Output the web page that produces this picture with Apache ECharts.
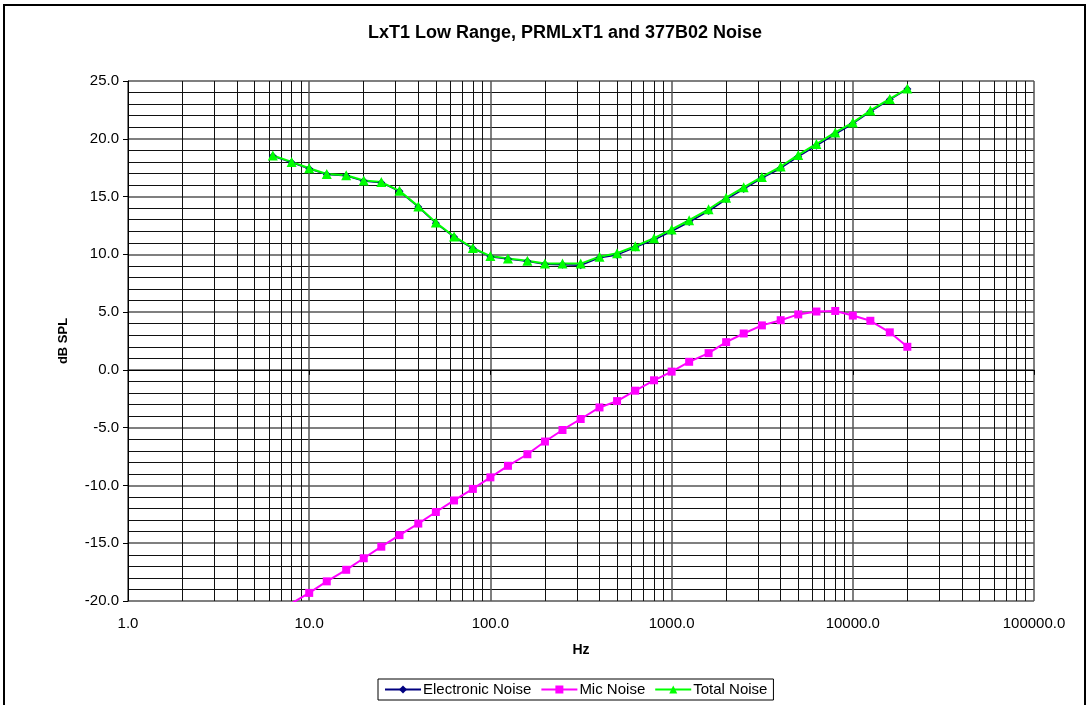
<!DOCTYPE html>
<html>
<head>
<meta charset="utf-8">
<script src="https://cdn.jsdelivr.net/npm/echarts@6/dist/echarts.min.js"></script>
<style>
html,body{margin:0;padding:0;background:#fff;}
#chart{width:1090px;height:705px;}
</style>
</head>
<body>
<div id="chart"></div>
<script>
// 1/3-octave band centre frequencies (Hz)
const freqs = [6.3, 8, 10, 12.5, 16, 20, 25, 31.5, 40, 50, 63, 80, 100, 125, 160, 200, 250, 315, 400, 500, 630, 800, 1000, 1250, 1600, 2000, 2500, 3150, 4000, 5000, 6300, 8000, 10000, 12500, 16000, 20000];

const electronicNoise = [18.5, 17.95, 17.4, 16.9, 16.8, 16.35, 16.2, 15.45, 14.1, 12.7, 11.5, 10.5, 9.8, 9.6, 9.4, 9.15, 9.1, 9.05, 9.7, 9.95, 10.6, 11.25, 12.0, 12.8, 13.75, 14.75, 15.65, 16.6, 17.45, 18.45, 19.4, 20.4, 21.3, 22.35, 23.4, 24.3];
const micNoise = [-21.2, -20.2, -19.3, -18.3, -17.3, -16.3, -15.3, -14.3, -13.3, -12.3, -11.3, -10.3, -9.3, -8.3, -7.3, -6.2, -5.2, -4.25, -3.25, -2.7, -1.8, -0.9, -0.15, 0.7, 1.45, 2.4, 3.15, 3.85, 4.3, 4.8, 5.05, 5.1, 4.7, 4.25, 3.25, 2.0];
const totalNoise = [18.55, 18.0, 17.45, 16.95, 16.85, 16.4, 16.25, 15.5, 14.15, 12.75, 11.55, 10.55, 9.85, 9.65, 9.45, 9.2, 9.2, 9.2, 9.8, 10.1, 10.7, 11.4, 12.15, 12.95, 13.9, 14.9, 15.8, 16.7, 17.6, 18.6, 19.55, 20.55, 21.4, 22.45, 23.45, 24.35];

const title = 'LxT1 Low Range, PRMLxT1 and 377B02 Noise';
const seriesNames = ['Electronic Noise', 'Mic Noise', 'Total Noise'];
const xName = 'Hz';
const yName = 'dB SPL';

const pairs = vals => freqs.map((f, i) => [f, vals[i]]);
const FONT = 'Liberation Sans, Arial, sans-serif';

const chart = echarts.init(document.getElementById('chart'), null, {renderer: 'canvas'});
chart.setOption({
  backgroundColor: '#fff',
  animation: false,
  title: {
    text: title,
    left: 560,
    textAlign: 'center',
    top: 19,
    textStyle: {fontFamily: FONT, fontSize: 18, fontWeight: 'bold', color: '#000'}
  },
  legend: {
    data: seriesNames,
    left: 378,
    top: 679,
    padding: [3, 6],
    itemGap: 9,
    itemWidth: 36,
    itemHeight: 10,
    borderColor: '#000',
    borderWidth: 1,
    borderRadius: 0,
    textStyle: {fontFamily: FONT, fontSize: 15, color: '#000', padding: [0, 0, 0, -3]}
  },
  graphic: [{
    type: 'rect',
    shape: {x: 4, y: 5, width: 1081, height: 730},
    style: {fill: null, stroke: '#000', lineWidth: 2},
    silent: true,
    z: 100
  }],
  grid: {left: 128, top: 81, right: 56, bottom: 104, containLabel: false},
  xAxis: {
    type: 'log',
    logBase: 10,
    min: 1,
    max: 100000,
    name: xName,
    nameLocation: 'middle',
    nameGap: 42,
    nameTextStyle: {fontFamily: FONT, fontSize: 14, fontWeight: 'bold', color: '#000'},
    axisLine: {show: true, lineStyle: {color: '#000', width: 1}},
    axisTick: {show: true, length: 5, inside: false, lineStyle: {color: '#000'}},
    axisLabel: {fontFamily: FONT, fontSize: 15, color: '#000', margin: 15,
      formatter: v => Number(v).toFixed(1)},
    splitLine: {show: true, lineStyle: {color: '#555', width: 1.5}},
    minorTick: {show: false, splitNumber: 9},
    minorSplitLine: {show: true, lineStyle: {color: '#111', width: 1}}
  },
  yAxis: {
    type: 'value',
    min: -20,
    max: 25,
    interval: 5,
    name: yName,
    nameLocation: 'middle',
    nameGap: 58,
    nameRotate: 90,
    nameTextStyle: {fontFamily: FONT, fontSize: 13, fontWeight: 'bold', color: '#000'},
    axisLine: {show: true, lineStyle: {color: '#000', width: 1}},
    axisTick: {show: true, length: 5, inside: false, lineStyle: {color: '#000'}},
    axisLabel: {fontFamily: FONT, fontSize: 15, color: '#000', margin: 9,
      formatter: v => Number(v).toFixed(1)},
    splitLine: {show: true, lineStyle: {color: '#555', width: 1.5}},
    minorTick: {show: false, splitNumber: 5},
    minorSplitLine: {show: true, lineStyle: {color: '#111', width: 1}}
  },
  series: [
    {
      name: seriesNames[0], type: 'line', data: pairs(electronicNoise),
      symbol: 'diamond', symbolSize: 8, clip: true,
      lineStyle: {color: '#000080', width: 1.5},
      itemStyle: {color: '#000080'}
    },
    {
      name: seriesNames[1], type: 'line', data: pairs(micNoise),
      symbol: 'rect', symbolSize: 8, clip: true,
      lineStyle: {color: '#FF00FF', width: 2},
      itemStyle: {color: '#FF00FF'}
    },
    {
      name: seriesNames[2], type: 'line', data: pairs(totalNoise),
      symbol: 'triangle', symbolSize: 10, clip: true,
      lineStyle: {color: '#00FF00', width: 2},
      itemStyle: {color: '#00FF00'}
    }
  ]
});
</script>
</body>
</html>
